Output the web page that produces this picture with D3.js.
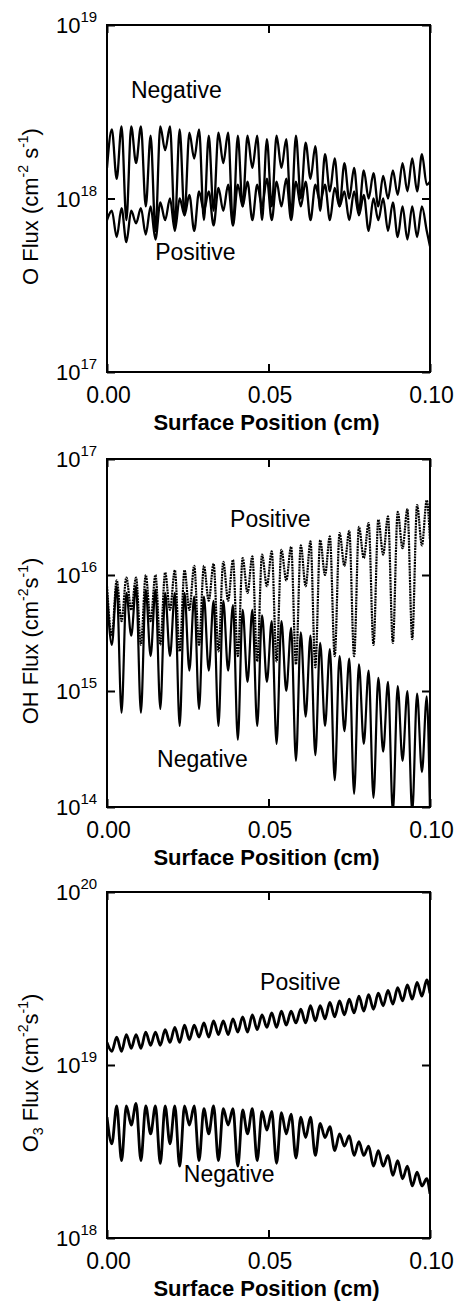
<!DOCTYPE html>
<html>
<head>
<meta charset="utf-8">
<script src="https://cdn.jsdelivr.net/npm/d3@7"></script>
<style>
  body { margin: 0; background: #fff; }
  svg { display: block; }
  text { font-family: "Liberation Sans", Arial, Helvetica, sans-serif; fill: #000; }
</style>
</head>
<body>
<div id="chart"></div>
<script>
// surface position grid (cm)
const positions = [0, 0.0015, 0.003, 0.0045, 0.006, 0.0075, 0.009, 0.0105, 0.012, 0.0135,
  0.015, 0.0165, 0.018, 0.0195, 0.021, 0.0225, 0.024, 0.0255, 0.027, 0.0285,
  0.03, 0.0315, 0.033, 0.0345, 0.036, 0.0375, 0.039, 0.0405, 0.042, 0.0435,
  0.045, 0.0465, 0.048, 0.0495, 0.051, 0.0525, 0.054, 0.0555, 0.057, 0.0585,
  0.06, 0.0615, 0.063, 0.0645, 0.066, 0.0675, 0.069, 0.0705, 0.072, 0.0735,
  0.075, 0.0765, 0.078, 0.0795, 0.081, 0.0825, 0.084, 0.0855, 0.087, 0.0885,
  0.09, 0.0915, 0.093, 0.0945, 0.096, 0.0975, 0.099, 0.1];

// O flux (cm^-2 s^-1)
const oNegative = [1.5e18, 2.5e18, 1.3e18, 2.6e18, 7.5e17, 2.6e18, 1.6e18, 2.6e18, 9e17, 2.3e18,
  6.5e17, 2.6e18, 1.9e18, 2.6e18, 7e17, 2.5e18, 8e17, 2.4e18, 1.7e18, 2.5e18,
  7.5e17, 2.3e18, 8.5e17, 2.4e18, 1.6e18, 2.4e18, 7e17, 2.3e18, 9e17, 2.3e18,
  1.5e18, 2.3e18, 7.5e17, 2.2e18, 9e17, 2.3e18, 1.5e18, 2.2e18, 8e17, 2.3e18,
  1.0e18, 2.1e18, 1.3e18, 2.0e18, 8.5e17, 1.8e18, 1.1e18, 1.7e18, 9e17, 1.6e18,
  1.0e18, 1.5e18, 8.5e17, 1.45e18, 1.0e18, 1.4e18, 9e17, 1.35e18, 1.0e18, 1.45e18,
  1.05e18, 1.6e18, 1.1e18, 1.7e18, 1.1e18, 1.8e18, 1.2e18, 1.25e18];
const oPositive = [7.5e17, 8.5e17, 6e17, 8.8e17, 5.6e17, 8.5e17, 7.2e17, 8.8e17, 6.2e17, 9e17,
  5.8e17, 9.5e17, 7.5e17, 1.0e18, 6.5e17, 1.0e18, 8e17, 1.05e18, 6.5e17, 1.1e18,
  8.5e17, 1.1e18, 7e17, 1.15e18, 8.5e17, 1.2e18, 7e17, 1.2e18, 9e17, 1.25e18,
  7.5e17, 1.2e18, 9e17, 1.3e18, 7.5e17, 1.25e18, 9e17, 1.3e18, 7.5e17, 1.25e18,
  9e17, 1.25e18, 7.5e17, 1.2e18, 9.5e17, 1.2e18, 7.5e17, 1.15e18, 9e17, 1.1e18,
  7.5e17, 1.1e18, 8e17, 1.05e18, 6.5e17, 1.0e18, 7.5e17, 1.0e18, 6.5e17, 9.5e17,
  6e17, 9e17, 5.8e17, 9e17, 6e17, 9e17, 6.5e17, 5.3e17];

// OH flux
const ohPositive = [8e15, 3e15, 9e15, 4e15, 9.5e15, 5e15, 9.5e15, 2.5e15, 1.0e16, 4e15,
  1.0e16, 2.5e15, 1.05e16, 5e15, 1.1e16, 2.2e15, 1.1e16, 5e15, 1.2e16, 2.5e15,
  1.2e16, 6e15, 1.25e16, 2.2e15, 1.3e16, 6e15, 1.35e16, 2e15, 1.4e16, 7e15,
  1.45e16, 1.8e15, 1.5e16, 8e15, 1.6e16, 1.8e15, 1.65e16, 9e15, 1.75e16, 1.7e15,
  1.8e16, 8e15, 1.95e16, 1.6e15, 2.0e16, 1.0e16, 2.15e16, 2e15, 2.3e16, 1.2e16,
  2.4e16, 2e15, 2.6e16, 1.4e16, 2.8e16, 2.5e15, 3.0e16, 1.5e16, 3.2e16, 2.6e15,
  3.5e16, 1.7e16, 3.7e16, 2.8e15, 4.0e16, 1.8e16, 4.4e16, 2e16];
const ohNegative = [7e15, 2.5e15, 8e15, 6.5e14, 7e15, 3e15, 8e15, 6.5e14, 7.5e15, 2e15,
  7.5e15, 7e14, 7e15, 2e15, 7e15, 5e14, 7e15, 1.5e15, 6.5e15, 7e14,
  6.5e15, 1.5e15, 6e15, 5e14, 6e15, 1.5e15, 5.5e15, 3.8e14, 5e15, 1.2e15,
  5e15, 5e14, 4.5e15, 1.2e15, 4e15, 3.5e14, 4e15, 1e15, 3.5e15, 2.5e14,
  3.2e15, 6e14, 3e15, 2.8e14, 2.6e15, 5e14, 2.3e15, 1.7e14, 2e15, 4.5e14,
  1.9e15, 1.3e14, 1.7e15, 3.5e14, 1.5e15, 1.2e14, 1.3e15, 3e14, 1.2e15, 9e13,
  1.1e15, 2.5e14, 1.0e15, 9e13, 9.5e14, 2e14, 9e14, 9e13];

// O3 flux
const o3Positive = [1.35e19, 1.2e19, 1.45e19, 1.2e19, 1.5e19, 1.25e19, 1.5e19, 1.25e19, 1.55e19, 1.3e19,
  1.55e19, 1.3e19, 1.6e19, 1.35e19, 1.65e19, 1.35e19, 1.7e19, 1.4e19, 1.7e19, 1.45e19,
  1.75e19, 1.45e19, 1.8e19, 1.5e19, 1.8e19, 1.5e19, 1.85e19, 1.55e19, 1.9e19, 1.55e19,
  1.95e19, 1.6e19, 1.95e19, 1.65e19, 2.0e19, 1.65e19, 2.05e19, 1.7e19, 2.05e19, 1.75e19,
  2.1e19, 1.75e19, 2.2e19, 1.8e19, 2.2e19, 1.85e19, 2.3e19, 1.9e19, 2.35e19, 1.95e19,
  2.4e19, 2.0e19, 2.5e19, 2.05e19, 2.55e19, 2.1e19, 2.6e19, 2.2e19, 2.7e19, 2.25e19,
  2.8e19, 2.35e19, 2.9e19, 2.4e19, 3.0e19, 2.5e19, 3.1e19, 2.6e19];
const o3Negative = [5e18, 3.5e18, 5.8e18, 2.8e18, 5.8e18, 4.5e18, 6e18, 2.8e18, 5.8e18, 4e18,
  5.8e18, 2.7e18, 5.8e18, 3.5e18, 5.8e18, 2.6e18, 5.8e18, 4.5e18, 5.8e18, 2.8e18,
  5.6e18, 4e18, 5.8e18, 2.8e18, 5.6e18, 4.5e18, 5.6e18, 2.6e18, 5.5e18, 4e18,
  5.6e18, 2.8e18, 5.4e18, 4.2e18, 5.4e18, 2.7e18, 5.3e18, 4e18, 5.2e18, 2.9e18,
  5.0e18, 3.8e18, 5.0e18, 3.0e18, 4.6e18, 3.8e18, 4.4e18, 3.2e18, 4.0e18, 3.4e18,
  3.9e18, 3.0e18, 3.6e18, 3.0e18, 3.4e18, 2.6e18, 3.2e18, 2.6e18, 3.0e18, 2.3e18,
  2.8e18, 2.2e18, 2.6e18, 2.0e18, 2.4e18, 2.0e18, 2.2e18, 1.8e18];

const xTicks = [0, 0.05, 0.1];

const width = 455;
const height = 1301;
const left = 107;
const right = 430;

const panels = [
  {
    top: 25, bottom: 372, domain: [1e17, 1e19],
    title: [["O Flux (cm"], ["-2", "sup"], [" s"], ["-1", "sup"], [")"]],
    series: [
      { values: oNegative, dash: null, w: 2.3 },
      { values: oPositive, dash: null, w: 2.3 }
    ],
    labels: [
      { text: "Negative", x: 0.0074, y: 3.8e18 },
      { text: "Positive", x: 0.0149, y: 4.4e17 }
    ]
  },
  {
    top: 459, bottom: 807, domain: [1e14, 1e17],
    title: [["OH Flux (cm"], ["-2", "sup"], ["s"], ["-1", "sup"], [")"]],
    series: [
      { values: ohNegative, dash: null, w: 2.2 },
      { values: ohPositive, dash: "2,0.8", w: 2.2 }
    ],
    labels: [
      { text: "Positive", x: 0.0381, y: 2.6e16 },
      { text: "Negative", x: 0.0155, y: 2.2e14 }
    ]
  },
  {
    top: 892, bottom: 1238, domain: [1e18, 1e20],
    title: [["O"], ["3", "sub"], [" Flux (cm"], ["-2", "sup"], ["s"], ["-1", "sup"], [")"]],
    series: [
      { values: o3Positive, dash: null, w: 2.8 },
      { values: o3Negative, dash: null, w: 2.8 }
    ],
    labels: [
      { text: "Positive", x: 0.0474, y: 2.7e19 },
      { text: "Negative", x: 0.0238, y: 2.1e18 }
    ]
  }
];

const svg = d3.select("#chart").append("svg")
  .attr("width", width)
  .attr("height", height);

const x = d3.scaleLinear().domain([0, 0.1]).range([left, right]);

panels.forEach((p, i) => {
  const y = d3.scaleLog().domain(p.domain).range([p.bottom, p.top]);
  const decades = d3.range(Math.log10(p.domain[0]), Math.log10(p.domain[1]) + 1);
  const g = svg.append("g");

  const clipId = "clip" + i;
  g.append("clipPath").attr("id", clipId)
    .append("rect")
    .attr("x", left).attr("y", p.top)
    .attr("width", right - left).attr("height", p.bottom - p.top);

  const line = d3.line()
    .x((d, j) => x(positions[j]))
    .y((d) => y(d))
    .curve(d3.curveMonotoneX);

  g.append("g").attr("clip-path", `url(#${clipId})`)
    .selectAll("path")
    .data(p.series)
    .join("path")
    .attr("d", (s) => line(s.values))
    .attr("fill", "none")
    .attr("stroke", "#000")
    .attr("stroke-width", (s) => s.w)
    .attr("stroke-linejoin", "round")
    .attr("stroke-dasharray", (s) => s.dash);

  // axes, ticks pointing inward
  const bottomAxis = d3.axisBottom(x).tickValues(xTicks).tickSize(-8)
    .tickFormat(d3.format(".2f"));
  const gb = g.append("g").attr("transform", `translate(0,${p.bottom})`).call(bottomAxis);
  gb.select(".domain").remove();
  gb.selectAll(".tick line").attr("stroke-width", 2);
  gb.selectAll(".tick text")
    .attr("font-size", 23)
    .attr("font-family", '"Liberation Sans", Arial, sans-serif')
    .attr("x", 1)
    .attr("y", 31).attr("dy", null);

  const topAxis = d3.axisTop(x).tickValues(xTicks).tickSize(-8).tickFormat("");
  const gt = g.append("g").attr("transform", `translate(0,${p.top})`).call(topAxis);
  gt.select(".domain").remove();
  gt.selectAll(".tick line").attr("stroke-width", 2);

  const yVals = decades.map((e) => Math.pow(10, e));
  const leftAxis = d3.axisLeft(y).tickValues(yVals).tickSize(-8).tickFormat("");
  const gl = g.append("g").attr("transform", `translate(${left},0)`).call(leftAxis);
  gl.select(".domain").remove();
  gl.selectAll(".tick line").attr("stroke-width", 2);

  const rightAxis = d3.axisRight(y).tickValues(yVals).tickSize(-8).tickFormat("");
  const gr = g.append("g").attr("transform", `translate(${right},0)`).call(rightAxis);
  gr.select(".domain").remove();
  gr.selectAll(".tick line").attr("stroke-width", 2);

  // y tick labels 10^n
  const yl = g.selectAll("text.ylab")
    .data(decades)
    .join("text")
    .attr("class", "ylab")
    .attr("x", 56)
    .attr("y", (e) => y(Math.pow(10, e)) + 8)
    .attr("font-size", 22);
  yl.append("tspan").text("10");
  yl.append("tspan").attr("font-size", 15).attr("dy", -11).text((e) => e);

  g.append("rect")
    .attr("x", left).attr("y", p.top)
    .attr("width", right - left).attr("height", p.bottom - p.top)
    .attr("fill", "none").attr("stroke", "#000").attr("stroke-width", 2);

  // x title
  g.append("text")
    .attr("x", (left + right) / 2 - 2)
    .attr("y", p.bottom + 58)
    .attr("text-anchor", "middle")
    .attr("font-weight", "bold")
    .attr("font-size", 22)
    .text("Surface Position (cm)");

  // y title
  const midY = (p.top + p.bottom) / 2 + 8;
  const yt = g.append("text")
    .attr("transform", `translate(38,${midY}) rotate(-90)`)
    .attr("text-anchor", "middle")
    .attr("font-size", 22);
  let shift = 0;
  p.title.forEach(([t, kind]) => {
    const ts = yt.append("tspan").text(t);
    let target = 0;
    if (kind === "sup") { ts.attr("font-size", 14); target = -10; }
    if (kind === "sub") { ts.attr("font-size", 14); target = 5; }
    ts.attr("dy", target - shift);
    shift = target;
  });

  // series labels
  g.selectAll("text.slab")
    .data(p.labels)
    .join("text")
    .attr("class", "slab")
    .attr("x", (d) => x(d.x))
    .attr("y", (d) => y(d.y))
    .attr("font-size", 23)
    .text((d) => d.text);
});
</script>
</body>
</html>
